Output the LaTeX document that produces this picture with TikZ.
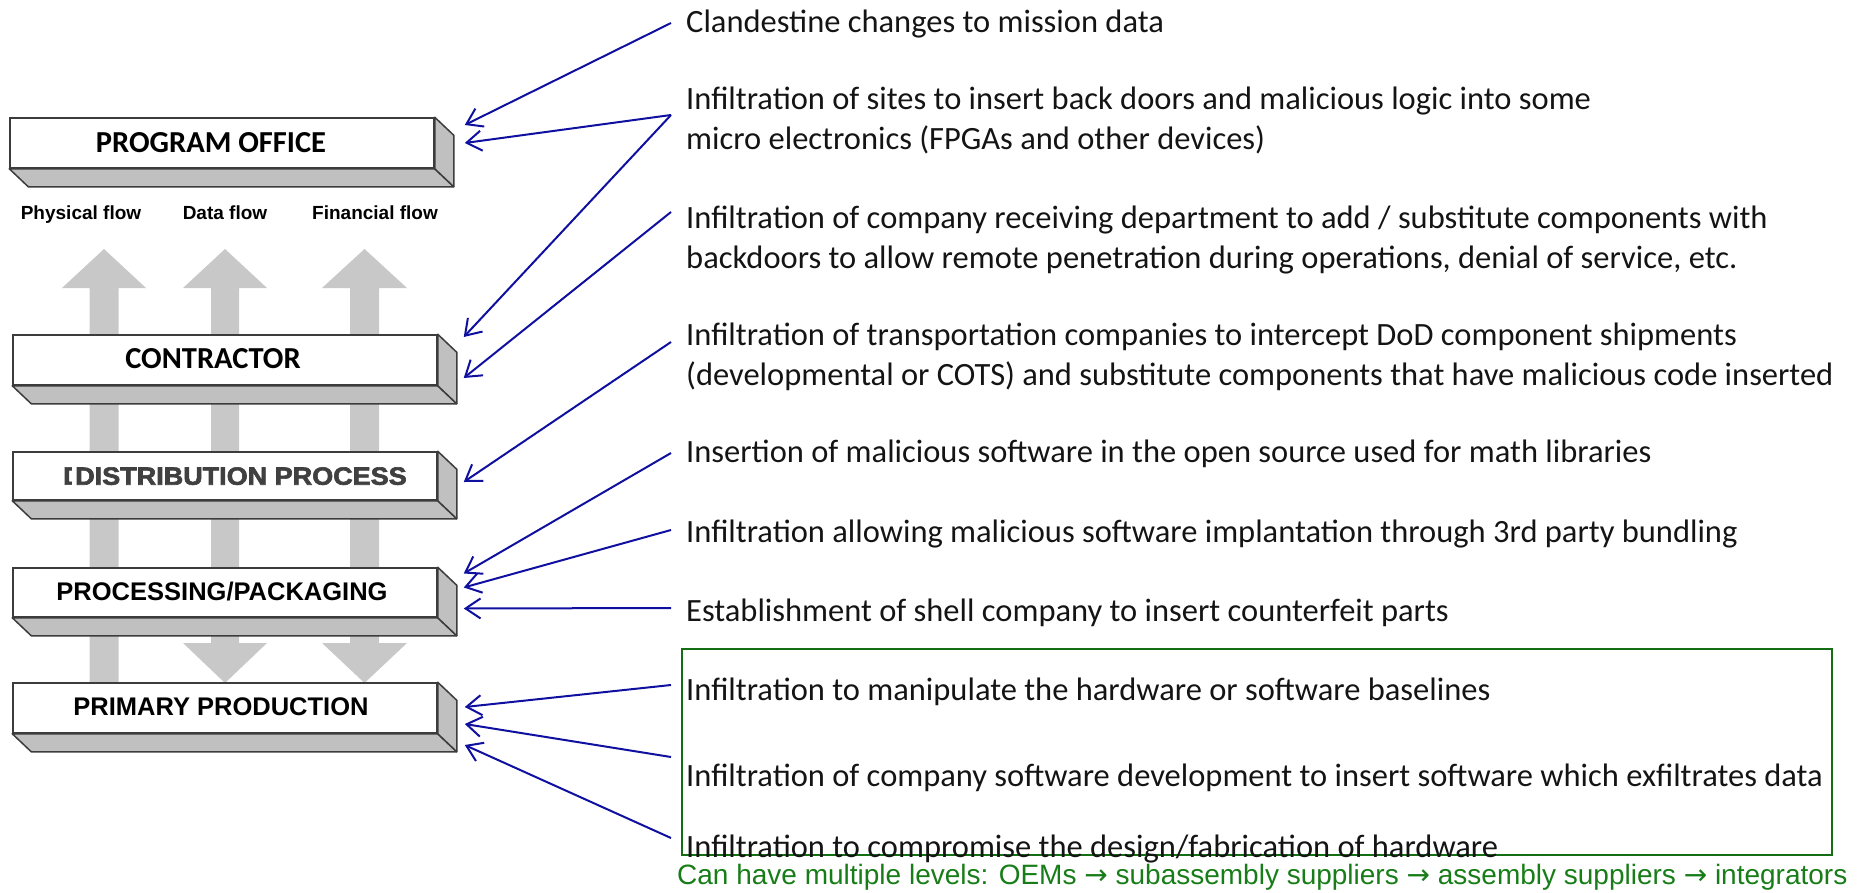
\documentclass[tikz,border=0pt]{standalone}
\usepackage{fontspec}
\usetikzlibrary{arrows.meta,calc}
\newfontfamily\calfont{Carlito}
\newfontfamily\arifont{Liberation Sans}
\newfontfamily\arrowglyph{DejaVu Sans}
\newfontfamily\heavyfont[FakeBold=2.5,FakeStretch=1.08]{Liberation Sans}
\definecolor{threatblue}{RGB}{16,16,160}
\definecolor{groupgreen}{RGB}{20,110,20}
\definecolor{notegreen}{RGB}{24,125,24}
\definecolor{flowgray}{RGB}{200,200,200}
\definecolor{facegray}{RGB}{192,192,192}
\definecolor{edgegray}{RGB}{60,60,60}
\definecolor{heavygray}{RGB}{64,64,64}
\definecolor{bodytext}{RGB}{20,20,20}
\newcommand\slabfaces[1]{%
  \filldraw[face] (#1.south west) -- (#1.south east) -- ++(19,18)
     -- ($(#1.south west)+(19,18)$) -- cycle;
  \filldraw[face] (#1.north east) -- ++(19,18)
     -- ($(#1.south east)+(19,18)$) -- (#1.south east) -- cycle;}
\begin{document}
\begin{tikzpicture}[x=1pt,y=-1pt,
  slab/.style={draw=edgegray,line width=1.5pt,fill=white,minimum width=424pt,
    minimum height=50pt,inner sep=0pt},
  face/.style={draw=edgegray,line width=1.5pt,fill=facegray,line join=round},
  slabtext/.style={inner sep=0pt,text depth=0pt,text=black},
  flowlabel/.style={inner sep=0pt,text depth=0pt,font=\arifont\bfseries\fontsize{19}{19}\selectfont},
  flowarrow/.style={fill=flowgray},
  item/.style={anchor=west,inner sep=0pt,align=left,text=bodytext,
    font=\calfont\fontsize{32.5}{40}\selectfont},
  threat/.style={draw=threatblue,line width=2pt,
    -{Straight Barb[length=15pt,width=20pt,line width=2pt]}}]
\useasboundingbox (0,0) rectangle (1868,892);

% gray flow arrows behind the stack
\fill[flowarrow] (89.5,288) -- (62,288) -- (104,249) -- (146,288) -- (118.5,288) -- (118.5,690) -- (89.5,690) -- cycle;
\fill[flowarrow] (211,288) -- (183,288) -- (225,249) -- (267,288) -- (239,288)
  -- (239,643) -- (267,643) -- (225,683) -- (183,643) -- (211,643) -- cycle;
\fill[flowarrow] (350,288) -- (322,288) -- (364.5,249) -- (407,288) -- (379,288)
  -- (379,643) -- (407,643) -- (364.5,683) -- (322,643) -- (350,643) -- cycle;

% flow captions
\node[flowlabel] (lphys) at (81,213) {Physical flow};
\node[flowlabel] (ldata) at (225,213) {Data flow};
\node[flowlabel] (lfin) at (375,213) {Financial flow};

% supply-chain tiers
\node[slab] (po) at (222,143) {};
\slabfaces{po}
\node[slabtext,font=\calfont\bfseries\fontsize{30.5}{30.5}\selectfont] (pot) at (211,142) {PROGRAM OFFICE};

\node[slab] (ct) at (225,360) {};
\slabfaces{ct}
\node[slabtext,font=\calfont\bfseries\fontsize{30.5}{30.5}\selectfont] (ctt) at (213,358) {CONTRACTOR};

\node[slab,minimum height=48pt] (ds) at (225,476) {};
\slabfaces{ds}
\node[slabtext,anchor=west,text=heavygray,font=\heavyfont\bfseries\fontsize{25}{25}\selectfont] (dsd) at (63,476) {D};
\node[slabtext,fill=white,inner xsep=3pt,text=heavygray,font=\heavyfont\bfseries\fontsize{25}{25}\selectfont] (dst) at (241,476) {DISTRIBUTION PROCESS};

\node[slab,minimum height=49pt] (pp) at (225,592.5) {};
\slabfaces{pp}
\node[slabtext,font=\arifont\bfseries\fontsize{25.5}{25.5}\selectfont] (ppt) at (222,591) {PROCESSING/PACKAGING};

\node[slab] (pr) at (225,708) {};
\slabfaces{pr}
\node[slabtext,font=\arifont\bfseries\fontsize{25.5}{25.5}\selectfont] (prt) at (221,707) {PRIMARY PRODUCTION};

% threat descriptions
\node[item] (t1) at (686,24) {Clandestine changes to mission data};
\node[item] (t2) at (686,120) {Infiltration of sites to insert back doors and malicious logic into some\\micro electronics (FPGAs and other devices)};
\node[item] (t3) at (686,240) {Infiltration of company receiving department to add / substitute components with\\backdoors to allow remote penetration during operations, denial of service, etc.};
\node[item] (t4) at (686,357) {Infiltration of transportation companies to intercept DoD component shipments\\(developmental or COTS) and substitute components that have malicious code inserted};
\node[item] (t5) at (686,454) {Insertion of malicious software in the open source used for math libraries};
\node[item] (t6) at (686,534) {Infiltration allowing malicious software implantation through 3rd party bundling};
\node[item] (t7) at (686,613) {Establishment of shell company to insert counterfeit parts};

\node[draw=groupgreen,line width=1.5pt,minimum width=1150pt,minimum height=206pt,inner sep=0pt] (grp) at (1257,752) {};
\node[item] (t8) at (686,692) {Infiltration to manipulate the hardware or software baselines};
\node[item] (t9) at (686,778) {Infiltration of company software development to insert software which exfiltrates data};
\node[item] (t10) at (686,849) {Infiltration to compromise the design/fabrication of hardware};

\node[anchor=west,inner sep=0pt,text=notegreen,font=\arifont\fontsize{28}{28}\selectfont] (note) at (677,877)
  {Can have multiple levels: OEMs {\arrowglyph →} subassembly suppliers {\arrowglyph →} assembly suppliers {\arrowglyph →} integrators};

% attack vectors
\draw[threat] ($(t1.west)+(-15,-1)$) -- ($(po.east)+(30,-18)$);
\draw[threat] ($(t2.west)+(-15,-5)$) -- ($(po.east)+(30,0)$);
\draw[threat] ($(t2.west)+(-15,-5)$) -- ($(ct.east)+(26,-23)$);
\draw[threat] ($(t3.west)+(-15,-28)$) -- ($(ct.east)+(26,18)$);
\draw[threat] ($(t4.west)+(-15,-15)$) -- ($(ds.east)+(26,6)$);
\draw[threat] ($(t5.west)+(-15,-1)$) -- ($(pp.east)+(26,-19)$);
\draw[threat] ($(t6.west)+(-15,-4)$) -- ($(pp.east)+(26,-5)$);
\draw[threat] ($(t7.west)+(-15,-5)$) -- ($(pp.east)+(26,16)$);
\draw[threat] ($(t8.west)+(-15,-7)$) -- ($(pr.east)+(27,-1)$);
\draw[threat] ($(t9.west)+(-15,-21)$) -- ($(pr.east)+(27,16)$);
\draw[threat] ($(t10.west)+(-15,-11)$) -- ($(pr.east)+(27,37)$);
\end{tikzpicture}
\end{document}
